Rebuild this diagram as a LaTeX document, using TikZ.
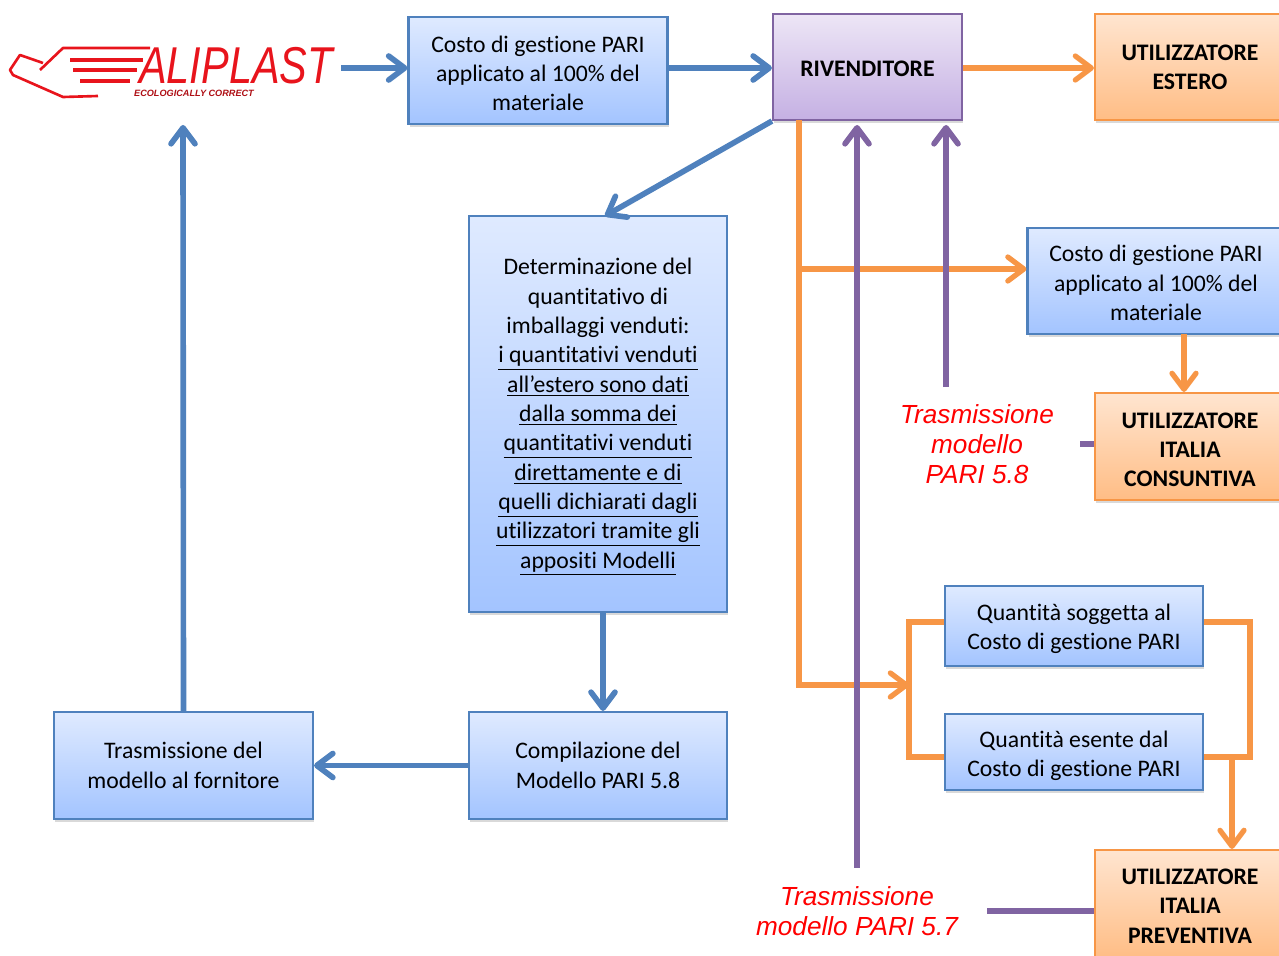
\documentclass[tikz,border=0pt]{standalone}
\usepackage{fontspec}
\setmainfont[Ligatures=NoCommon]{Carlito}
\newfontfamily\labelfont{Liberation Sans}
\newfontfamily\logofont[FakeStretch=0.8]{Liberation Sans}
\usetikzlibrary{arrows.meta,shadows}
\definecolor{blueline}{HTML}{4F81BD}
\definecolor{orangeline}{HTML}{F79646}
\definecolor{purpleline}{HTML}{8064A2}
\definecolor{logored}{HTML}{E8141C}
\definecolor{bluetop}{HTML}{DFEAFF}
\definecolor{bluebottom}{HTML}{A3C4FF}
\definecolor{purpletop}{HTML}{EDE6F6}
\definecolor{purplebottom}{HTML}{C5B0E3}
\definecolor{orangetop}{HTML}{FFE5D0}
\definecolor{orangebottom}{HTML}{FFBD85}
\newcommand{\dropline}{\rule{0pt}{12.8pt}}
\tikzset{
  box/.style={draw,line width=1.2pt,inner sep=0pt,align=center,font=\fontsize{13.5}{16.7}\selectfont,
    drop shadow={shadow xshift=0.6pt,shadow yshift=-1.6pt,opacity=0.3}},
  bluebox/.style={box,draw=blueline,top color=bluetop,bottom color=bluebottom},
  purplebox/.style={box,draw=purpleline,top color=purpletop,bottom color=purplebottom,font=\fontsize{13.5}{16.7}\selectfont\bfseries},
  userbox/.style={box,draw=orangeline,top color=orangetop,bottom color=orangebottom,font=\fontsize{13.5}{16.7}\selectfont\bfseries},
  red label/.style={text=red,inner sep=0pt,align=center,font=\labelfont\fontsize{14.9}{17}\selectfont\itshape},
  b/.style={color=blueline,line width=3.2pt},
  o/.style={color=orangeline,line width=3pt},
  v/.style={color=purpleline,line width=3.2pt},
  >={Straight Barb[length=3.2mm,width=4.8mm,round]}
}
\begin{document}
\begin{tikzpicture}[x=0.02cm,y=-0.02cm]
  \clip (0,0) rectangle (1279,956);
  % logo
  \draw[logored,line width=1.5pt,line join=round] (40,70) -- (63,48) -- (150,48);
  \draw[logored,line width=1.5pt,line join=round] (43,63) -- (20,55) -- (10,70) -- (13,75) -- (63,97) -- (98,96);
  \draw[logored,line width=1.9pt] (70,60) -- (143,60) (73,70) -- (137,70) (80,81) -- (130,81);
  \node[text=logored,inner sep=0pt,font=\logofont\fontsize{29.5}{30}\selectfont\itshape] (logo) at (236,66) {ALIPLAST};
  \node[text=logored!75!black,inner sep=0pt,font=\labelfont\fontsize{5.2}{6}\selectfont\itshape\bfseries] (motto) at (194,93) {ECOLOGICALLY CORRECT};
  % boxes
  \node[bluebox,minimum width=5.18cm,minimum height=2.14cm] (costo1) at (538,70.5) {\dropline Costo di gestione PARI\\applicato al 100\% del\\materiale};
  \node[purplebox,minimum width=3.78cm,minimum height=2.12cm] (riv) at (867.5,67) {\rule{0pt}{11pt}RIVENDITORE};
  \node[userbox,minimum width=3.8cm,minimum height=2.12cm] (ue) at (1190,67) {UTILIZZATORE\\ESTERO};
  \node[bluebox,minimum width=5.14cm,minimum height=2.12cm] (costo2) at (1156,281) {\rule{0pt}{11.5pt}Costo di gestione PARI\\applicato al 100\% del\\materiale};
  \node[userbox,minimum width=3.8cm,minimum height=2.14cm] (uc) at (1190,446.5) {\dropline UTILIZZATORE\\ITALIA\\CONSUNTIVA};
  \node[bluebox,minimum width=5.16cm,minimum height=7.92cm] (det) at (598,414) {\dropline Determinazione del\\quantitativo di\\imballaggi venduti:\\\underline{i quantitativi venduti}\\\underline{all’estero sono dati}\\\underline{dalla somma dei}\\\underline{quantitativi venduti}\\\underline{direttamente e di}\\\underline{quelli dichiarati dagli}\\\underline{utilizzatori tramite gli}\\\underline{appositi Modelli}};
  \node[bluebox,minimum width=5.16cm,minimum height=2.14cm] (comp) at (598,765.5) {Compilazione del\\Modello PARI 5.8};
  \node[bluebox,minimum width=5.18cm,minimum height=2.14cm] (tras) at (183.5,765.5) {Trasmissione del\\modello al fornitore};
  \node[bluebox,minimum width=5.16cm,minimum height=1.6cm] (qs) at (1074,626) {\dropline Quantità soggetta al\\Costo di gestione PARI};
  \node[bluebox,minimum width=5.16cm,minimum height=1.52cm] (qe) at (1074,752) {\rule{0pt}{13.6pt}Quantità esente dal\\Costo di gestione PARI};
  \node[userbox,minimum width=3.8cm,minimum height=2.16cm] (up) at (1190,904) {\rule{0pt}{11pt}UTILIZZATORE\\ITALIA\\PREVENTIVA};
  \node[red label,minimum width=4.12cm,minimum height=2.26cm] (tr58) at (977,444) {Trasmissione\\modello\\PARI 5.8};
  \node[red label,minimum width=5.2cm,minimum height=1.72cm] (tr57) at (857,911) {Trasmissione\\modello PARI 5.7};
  % free ends
  \coordinate (lg) at (183,125);
  \coordinate (r57) at (857,125);
  \coordinate (r58) at (946,125);
  \coordinate (dt) at (605,216);
  \coordinate (dc) at (603,612);
  \coordinate (oa) at (799,120);
  \coordinate (ob) at (799,269);
  \coordinate (oc) at (799,685);
  \coordinate (od) at (909,685);
  \coordinate (ql) at (909,622);
  \coordinate (qm) at (909,757);
  \coordinate (qr) at (1250,622);
  \coordinate (qn) at (1250,757);
  \coordinate (qd) at (1232,757);
  \coordinate (uo) at (1184,334);
  % blue
  \path[->,b] (logo.east) ++(8,2) edge (costo1.west |- 0,68)
    (costo1.east |- 0,68) edge (riv.west |- 0,68)
    (riv.south west) edge (dt)
    (dc) edge (dc |- comp.north)
    (comp.west) edge (tras.east)
    (tras.north) edge (lg);
  % orange
  \draw[->,o] (riv.east |- 0,68) -- (ue.west |- 0,68);
  \draw[->,o] (oa) -- (oc) -- (od);
  \draw[->,o] (ob) -- (ob -| costo2.west);
  \draw[->,o] (uo) -- (uo |- uc.north);
  \draw[o] (ql -| qs.west) -- (ql) -- (qm) -- (qm -| qe.west);
  \draw[o] (qr -| qs.east) -- (qr) -- (qn) -- (qn -| qe.east);
  \draw[->,o] (qd) -- (qd |- up.north);
  % purple
  \draw[->,v] (tr57.north) -- (r57);
  \draw[->,v] (tr58.north -| r58) -- (r58);
  \draw[v] (tr58.east) -- (tr58.east -| uc.west);
  \draw[v] (tr57.east) -- (tr57.east -| up.west);
\end{tikzpicture}
\end{document}
